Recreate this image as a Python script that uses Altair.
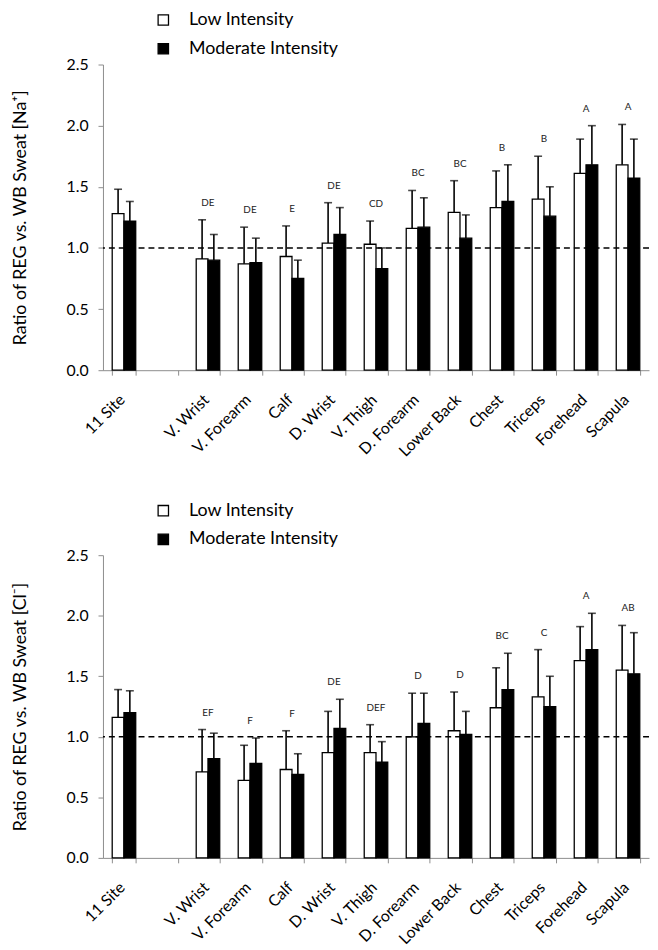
import altair as alt
import pandas as pd

categories = ["11 Site", " ", "V. Wrist", "V. Forearm", "Calf", "D. Wrist", "V. Thigh",
              "D. Forearm", "Lower Back", "Chest", "Triceps", "Forehead", "Scapula"]
sites = ["11 Site", "V. Wrist", "V. Forearm", "Calf", "D. Wrist", "V. Thigh",
         "D. Forearm", "Lower Back", "Chest", "Triceps", "Forehead", "Scapula"]
groups = ["Low Intensity", "Moderate Intensity"]

# Sodium panel
na_low = [1.28, 0.91, 0.87, 0.93, 1.04, 1.03, 1.16, 1.29, 1.33, 1.40, 1.61, 1.68]
na_low_sd = [0.20, 0.32, 0.30, 0.25, 0.33, 0.19, 0.31, 0.26, 0.30, 0.35, 0.28, 0.33]
na_mod = [1.22, 0.90, 0.88, 0.75, 1.11, 0.83, 1.17, 1.08, 1.38, 1.26, 1.68, 1.57]
na_mod_sd = [0.16, 0.21, 0.20, 0.15, 0.22, 0.17, 0.24, 0.19, 0.30, 0.24, 0.32, 0.32]
na_letters = ["", "DE", "DE", "E", "DE", "CD", "BC", "BC", "B", "B", "A", "A"]

# Chloride panel
cl_low = [1.16, 0.71, 0.64, 0.73, 0.87, 0.87, 1.00, 1.05, 1.24, 1.33, 1.63, 1.55]
cl_low_sd = [0.23, 0.35, 0.29, 0.32, 0.34, 0.23, 0.36, 0.32, 0.33, 0.39, 0.28, 0.37]
cl_mod = [1.20, 0.82, 0.78, 0.69, 1.07, 0.79, 1.11, 1.02, 1.39, 1.25, 1.72, 1.52]
cl_mod_sd = [0.18, 0.21, 0.21, 0.17, 0.24, 0.17, 0.25, 0.19, 0.30, 0.25, 0.30, 0.34]
cl_letters = ["", "EF", "F", "F", "DE", "DEF", "D", "D", "BC", "C", "A", "AB"]

FONT = "Lato"


def panel(low, low_sd, mod, mod_sd, letters, ytitle, h):
    rows = []
    for i, s in enumerate(sites):
        rows.append({"site": s, "group": groups[0], "value": low[i], "top": low[i] + low_sd[i]})
        rows.append({"site": s, "group": groups[1], "value": mod[i], "top": mod[i] + mod_sd[i]})
    df = pd.DataFrame(rows)
    lab = pd.DataFrame({
        "site": sites,
        "letter": letters,
        "ly": [max(low[i] + low_sd[i], mod[i] + mod_sd[i]) + 0.14 for i in range(len(sites))],
    })
    ref = pd.DataFrame({"y": [1.0]})

    xenc = alt.X("site:N", sort=categories,
                 scale=alt.Scale(domain=categories, paddingInner=0.44, paddingOuter=0.22),
                 axis=alt.Axis(title=None, labelAngle=-45, labelFontSize=16, labelFont=FONT,
                               labelColor="black", labelAlign="right", labelBaseline="middle",
                               labelPadding=22, labelOffset=-2,
                               domainColor="#8c8c8c", tickColor="#8c8c8c",
                               tickSize=5, tickBand="extent", grid=False))
    xoff = alt.XOffset("group:N", scale=alt.Scale(domain=groups))
    yscale = alt.Scale(domain=[0, 2.5], nice=False)

    base = alt.Chart(df)
    bars = base.mark_bar(stroke="black", strokeWidth=1.3).encode(
        x=xenc, xOffset=xoff,
        y=alt.Y("value:Q", scale=yscale,
                axis=alt.Axis(title=ytitle, values=[0, 0.5, 1.0, 1.5, 2.0, 2.5], format=".1f",
                              labelFontSize=16, labelFont=FONT, labelColor="black",
                              titleFontSize=18, titleFont=FONT, titleFontWeight="normal",
                              titleColor="black", titlePadding=37, labelPadding=10,
                              domainColor="#8c8c8c", tickColor="#8c8c8c", tickSize=5,
                              grid=False)),
        fill=alt.Fill("group:N", scale=alt.Scale(domain=groups, range=["white", "black"]),
                      legend=alt.Legend(title=None, orient="none", legendX=52, legendY=-54,
                                        padding=0,
                                        symbolType="square", symbolSize=110,
                                        symbolStrokeColor="black", symbolStrokeWidth=1.3,
                                        labelFontSize=18, labelFont=FONT, labelColor="black",
                                        labelOffset=17, rowPadding=11)),
    )
    rules = base.mark_rule(color="black", strokeWidth=1.6).encode(
        x=xenc, xOffset=xoff, y=alt.Y("value:Q", scale=yscale), y2="top:Q")
    caps = base.mark_tick(color="black", thickness=1.6, size=8).encode(
        x=xenc, xOffset=xoff, y=alt.Y("top:Q", scale=yscale))
    dashed = alt.Chart(ref).mark_rule(color="black", strokeDash=[6, 4], strokeWidth=1.4).encode(
        y=alt.Y("y:Q", scale=yscale))
    text = alt.Chart(lab).mark_text(fontSize=10, font=FONT, color="#222", baseline="middle").encode(
        x=xenc, y=alt.Y("ly:Q", scale=yscale), text="letter:N")
    return alt.layer(bars, rules, caps, dashed, text).properties(width=552, height=h)


top = panel(na_low, na_low_sd, na_mod, na_mod_sd, na_letters, "Ratio of REG vs. WB Sweat [Na⁺]", 309)
bottom = panel(cl_low, cl_low_sd, cl_mod, cl_mod_sd, cl_letters, "Ratio of REG vs. WB Sweat [Cl⁻]", 306)

chart = alt.vconcat(top, bottom, spacing=42).resolve_legend(fill="independent").resolve_scale(
    fill="independent"
).properties(
    padding={"left": 3, "top": -2, "right": 0, "bottom": 0}
).configure_view(stroke=None)

chart.save("out.html", embed_options={"renderer": "svg", "actions": False})
